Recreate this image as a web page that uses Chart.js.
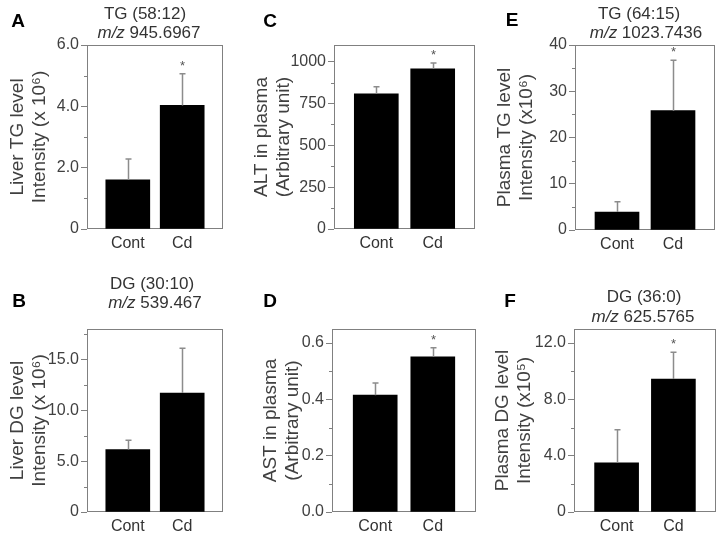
<!DOCTYPE html>
<html>
<head>
<meta charset="utf-8">
<script src="https://cdn.jsdelivr.net/npm/chart.js@4.4.1/dist/chart.umd.min.js"></script>
<style>
  body { margin: 0; background: #fff; }
  #fig { position: relative; width: 720px; height: 536px; overflow: hidden; font-family: "Liberation Sans", Arial, sans-serif; }
  #fig canvas { position: absolute; }
  .lbl { position: absolute; transform: translate(-50%, -50%); line-height: 1; white-space: nowrap; }
  .letter { font-weight: bold; font-size: 19px; color: #000; }
  .ttl { font-size: 17px; color: #333; }
</style>
</head>
<body>
<div id="fig">
  <canvas id="cA" width="240" height="268" style="left:0;top:0"></canvas>
  <canvas id="cC" width="240" height="268" style="left:240px;top:0"></canvas>
  <canvas id="cE" width="240" height="268" style="left:480px;top:0"></canvas>
  <canvas id="cB" width="240" height="268" style="left:0;top:268px"></canvas>
  <canvas id="cD" width="240" height="268" style="left:240px;top:268px"></canvas>
  <canvas id="cF" width="240" height="268" style="left:480px;top:268px"></canvas>

  <div class="lbl letter" style="left:18px;top:20px">A</div>
  <div class="lbl letter" style="left:270px;top:20px">C</div>
  <div class="lbl letter" style="left:512px;top:19px">E</div>
  <div class="lbl letter" style="left:19px;top:300px">B</div>
  <div class="lbl letter" style="left:270px;top:300px">D</div>
  <div class="lbl letter" style="left:510px;top:300px">F</div>

  <div class="lbl ttl" style="left:145px;top:13px">TG (58:12)</div>
  <div class="lbl ttl" style="left:149px;top:32px"><i>m/z</i> 945.6967</div>
  <div class="lbl ttl" style="left:639px;top:13px">TG (64:15)</div>
  <div class="lbl ttl" style="left:646px;top:32px"><i>m/z</i> 1023.7436</div>
  <div class="lbl ttl" style="left:152px;top:283px">DG (30:10)</div>
  <div class="lbl ttl" style="left:155px;top:302px"><i>m/z</i> 539.467</div>
  <div class="lbl ttl" style="left:644px;top:296px">DG (36:0)</div>
  <div class="lbl ttl" style="left:643px;top:316px"><i>m/z</i> 625.5765</div>
</div>
<script>
const groups = ['Cont', 'Cd'];

// A: liver TG (58:12)
const liverTG = [1.6, 4.03];
const liverTGErr = [0.68, 1.03];
const liverTGSig = [false, true];
const liverTGTicks = [0, 2, 4, 6];
const liverTGTickLabels = ['0', '2.0', '4.0', '6.0'];
const liverTGMinor = [1, 3, 5];

// B: liver DG (30:10)
const liverDG = [6.15, 11.7];
const liverDGErr = [0.9, 4.4];
const liverDGSig = [false, false];
const liverDGTicks = [0, 5, 10, 15];
const liverDGTickLabels = ['0', '5.0', '10.0', '15.0'];
const liverDGMinor = [2.5, 7.5, 12.5, 17.5];

// C: ALT
const alt = [808, 957];
const altErr = [42, 36];
const altSig = [false, true];
const altTicks = [0, 250, 500, 750, 1000];
const altTickLabels = ['0', '250', '500', '750', '1000'];
const altMinor = [125, 375, 625, 875];

// D: AST
const ast = [0.415, 0.551];
const astErr = [0.043, 0.032];
const astSig = [false, true];
const astTicks = [0, 0.2, 0.4, 0.6];
const astTickLabels = ['0.0', '0.2', '0.4', '0.6'];
const astMinor = [0.1, 0.3, 0.5];

// E: plasma TG (64:15)
const plasmaTG = [3.9, 25.8];
const plasmaTGErr = [2.2, 10.9];
const plasmaTGSig = [false, true];
const plasmaTGTicks = [0, 10, 20, 30, 40];
const plasmaTGTickLabels = ['0', '10', '20', '30', '40'];
const plasmaTGMinor = [5, 15, 25, 35];

// F: plasma DG (36:0)
const plasmaDG = [3.5, 9.45];
const plasmaDGErr = [2.35, 1.9];
const plasmaDGSig = [false, true];
const plasmaDGTicks = [0, 4, 8, 12];
const plasmaDGTickLabels = ['0', '4.0', '8.0', '12.0'];
const plasmaDGMinor = [2, 6, 10];

const textColor = '#404040';
const lineGray = '#808080';
const fontFamily = '"Liberation Sans", Arial, sans-serif';

// box, minor ticks, error bars and stars
const extras = {
  id: 'extras',
  beforeDatasetsDraw(chart, args, opts) {
    const { ctx, chartArea: a, scales: { y } } = chart;
    ctx.save();
    ctx.strokeStyle = lineGray;
    ctx.lineWidth = 1;
    ctx.strokeRect(a.left + 0.5, a.top + 0.5, a.right - a.left - 1, a.bottom - a.top - 1);
    ctx.beginPath();
    opts.minor.forEach(v => {
      const yy = Math.round(y.getPixelForValue(v)) + 0.5;
      ctx.moveTo(a.left - 3, yy);
      ctx.lineTo(a.left, yy);
    });
    ctx.stroke();
    ctx.restore();
  },
  afterDatasetsDraw(chart, args, opts) {
    const { ctx, scales: { y } } = chart;
    const meta = chart.getDatasetMeta(0);
    ctx.save();
    ctx.strokeStyle = '#8c8c8c';
    ctx.lineWidth = 1.5;
    ctx.fillStyle = '#555';
    ctx.font = '13px ' + fontFamily;
    ctx.textAlign = 'center';
    ctx.textBaseline = 'alphabetic';
    meta.data.forEach((bar, i) => {
      const v = opts.values[i];
      const x = Math.round(bar.x) + 0.5;
      const yBar = y.getPixelForValue(v);
      const yTop = y.getPixelForValue(v + opts.err[i]);
      ctx.beginPath();
      ctx.moveTo(x, yBar);
      ctx.lineTo(x, yTop);
      ctx.moveTo(x - 3, yTop);
      ctx.lineTo(x + 3, yTop);
      ctx.stroke();
      if (opts.sig[i]) ctx.fillText('*', x, yTop - 4);
    });
    ctx.restore();
  }
};

function makePanel(p) {
  const colLeft = p.col * 240;
  const rowTop = p.row * 268;
  const [l, t, r, b] = p.box;
  new Chart(document.getElementById(p.id), {
    type: 'bar',
    data: {
      datasets: [{
        data: p.values.map((v, i) => ({ x: i, y: v })),
        backgroundColor: '#000',
        borderWidth: 0,
        barThickness: 44
      }]
    },
    options: {
      responsive: false,
      animation: false,
      devicePixelRatio: 1,
      layout: { autoPadding: false, padding: { left: 0, top: t - rowTop, right: colLeft + 240 - r, bottom: 0 } },
      plugins: {
        legend: { display: false },
        tooltip: { enabled: false },
        extras: { values: p.values, err: p.err, sig: p.sig, minor: p.minor }
      },
      scales: {
        x: {
          type: 'linear',
          offset: false,
          bounds: 'data',
          min: -0.75,
          max: 1.75,
          grid: { display: false, drawTicks: false, offset: false },
          border: { display: false },
          afterDataLimits: ax => { ax.min = -0.75; ax.max = 1.75; },
          afterBuildTicks: ax => { ax.ticks = groups.map((g, i) => ({ value: i })); },
          afterFit: ax => { ax.height = rowTop + 268 - b; },
          ticks: {
            callback: v => groups[v],
            color: '#333',
            font: { size: 16, family: fontFamily },
            padding: 5,
            autoSkip: false,
            maxRotation: 0
          }
        },
        y: {
          min: 0,
          max: p.yMax,
          afterBuildTicks: ax => { ax.ticks = p.ticks.map(v => ({ value: v })); },
          afterFit: ax => { ax.width = l - colLeft; },
          grid: { drawOnChartArea: false, tickLength: 6, color: lineGray },
          border: { display: false },
          ticks: {
            callback: (v, i) => p.tickLabels[i],
            color: textColor,
            font: { size: 16, family: fontFamily },
            padding: 2
          },
          title: {
            display: true,
            text: p.yTitle,
            color: textColor,
            font: { size: 19, family: fontFamily, lineHeight: 1.15 },
            padding: { top: p.titlePad, bottom: 0 }
          }
        }
      }
    },
    plugins: [extras]
  });
}

makePanel({ id: 'cA', col: 0, row: 0, box: [87, 45, 223, 229], titlePad: 7, yMax: 6,
  values: liverTG, err: liverTGErr, sig: liverTGSig, ticks: liverTGTicks, tickLabels: liverTGTickLabels, minor: liverTGMinor,
  yTitle: ['Liver TG level', 'Intensity (x 10\u2076)'] });
makePanel({ id: 'cC', col: 1, row: 0, box: [334, 45, 475, 229], titlePad: 11, yMax: 1100,
  values: alt, err: altErr, sig: altSig, ticks: altTicks, tickLabels: altTickLabels, minor: altMinor,
  yTitle: ['ALT in plasma', '(Arbitrary unit)'] });
makePanel({ id: 'cE', col: 2, row: 0, box: [575, 45, 715, 230], titlePad: 14, yMax: 40,
  values: plasmaTG, err: plasmaTGErr, sig: plasmaTGSig, ticks: plasmaTGTicks, tickLabels: plasmaTGTickLabels, minor: plasmaTGMinor,
  yTitle: ['Plasma TG level', 'Intensity (x10\u2076)'] });
makePanel({ id: 'cB', col: 0, row: 1, box: [87, 329, 223, 512], titlePad: 7, yMax: 18,
  values: liverDG, err: liverDGErr, sig: liverDGSig, ticks: liverDGTicks, tickLabels: liverDGTickLabels, minor: liverDGMinor,
  yTitle: ['Liver DG level', 'Intensity (x 10\u2076)'] });
makePanel({ id: 'cD', col: 1, row: 1, box: [332, 329, 476, 512], titlePad: 20, yMax: 0.65,
  values: ast, err: astErr, sig: astSig, ticks: astTicks, tickLabels: astTickLabels, minor: astMinor,
  yTitle: ['AST in plasma', '(Arbitrary unit)'] });
makePanel({ id: 'cF', col: 2, row: 1, box: [574, 329, 716, 512], titlePad: 12, yMax: 13,
  values: plasmaDG, err: plasmaDGErr, sig: plasmaDGSig, ticks: plasmaDGTicks, tickLabels: plasmaDGTickLabels, minor: plasmaDGMinor,
  yTitle: ['Plasma DG level', 'Intensity (x10\u2075)'] });
</script>
</body>
</html>
